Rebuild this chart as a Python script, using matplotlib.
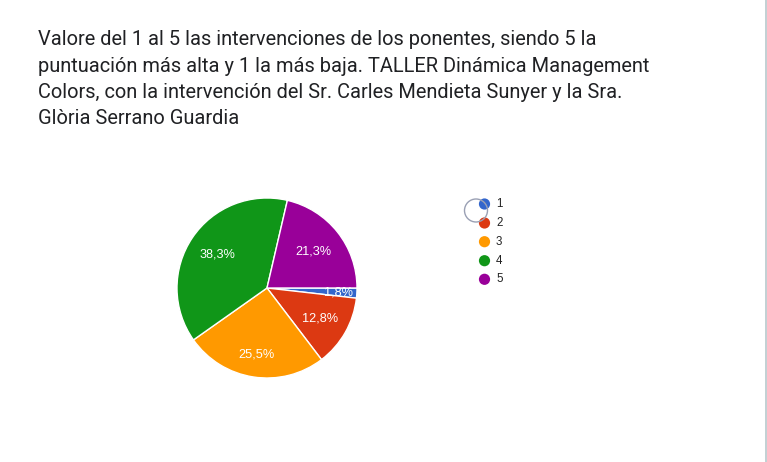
import numpy as np
import matplotlib
matplotlib.use("Agg")
import matplotlib.pyplot as plt
from matplotlib.patches import Circle

# ---- data ----
categories = ["1", "2", "3", "4", "5"]
percentages = [1.8, 12.8, 25.5, 38.3, 21.3]
colors = ["#3366CC", "#DC3912", "#FF9900", "#109618", "#990099"]
title_lines = [
    "Valore del 1 al 5 las intervenciones de los ponentes, siendo 5 la",
    "puntuación más alta y 1 la más baja. TALLER Dinámica Management",
    "Colors, con la intervención del Sr. Carles Mendieta Sunyer y la Sra.",
    "Glòria Serrano Guardia",
]

W, H = 767, 462
fig = plt.figure(figsize=(W / 100, H / 100), dpi=100)
fig.patch.set_facecolor("white")

def px(x, y):
    return x / W, 1 - y / H

# title
for i, line in enumerate(title_lines):
    fig.text(*px(38, 45.3 + i * 26.2), line, family="Roboto", fontsize=14.45,
             color="#202124", va="baseline", ha="left")

# pie
cx, cy, r = 267, 288, 90
ax = fig.add_axes([(cx - r) / W, 1 - (cy + r) / H, 2 * r / W, 2 * r / H])
wedges, _ = ax.pie(percentages, colors=colors, startangle=0, counterclock=False,
                   radius=1, wedgeprops=dict(edgecolor="white", linewidth=1.0))
ax.set_xlim(-1, 1)
ax.set_ylim(-1, 1)
ax.set_aspect("equal")
ax.axis("off")

label_dist = [0.80, 0.68, 0.745, 0.67, 0.66]
for w, p, d in zip(wedges, percentages, label_dist):
    ang = np.deg2rad((w.theta1 + w.theta2) / 2)
    ax.text(d * np.cos(ang), d * np.sin(ang), f"{p:.1f}%".replace(".", ","),
            ha="center", va="center", color="white", fontsize=9.2,
            family="Liberation Sans")

# legend
lax = fig.add_axes([0, 0, 1, 1], facecolor="none")
lax.set_xlim(0, W)
lax.set_ylim(H, 0)
lax.axis("off")
ys = [204, 223, 241.7, 260.7, 279.3]
for c, lab, y in zip(colors, categories, ys):
    lax.add_patch(Circle((484.5, y), 5.6, color=c, lw=0))
    lax.text(496, y, lab, ha="left", va="center", fontsize=8.3,
             family="Liberation Sans", color="#222222")
lax.add_patch(Circle((476, 210.5), 11.5, fill=False, ec="#9aa0b4", lw=1.0))

# right border
lax.plot([766, 766], [0, H], color="#b8c8cc", lw=1.2)

fig.savefig("out.png", dpi=100, facecolor="white")
